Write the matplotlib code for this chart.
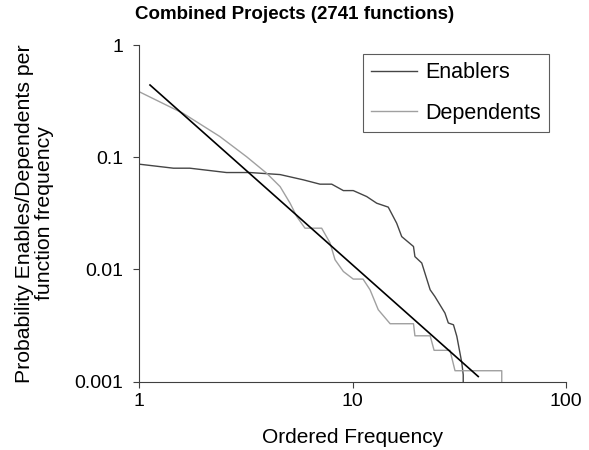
import matplotlib
matplotlib.use("Agg")
import matplotlib.pyplot as plt

plt.rcParams['font.family'] = ['Liberation Sans', 'DejaVu Sans']

# Enablers curve
enablers_x = [1.0, 1.45, 1.73, 2.15, 2.57, 3.31, 4.58, 5.89, 7.04, 7.99, 9.06,
              10.08, 11.65, 12.98, 14.7, 16.1, 17.0, 19.3, 19.6, 21.1, 23.1,
              24.3, 27.1, 28.1, 29.7, 30.8, 32.5, 33.0, 33.0]
enablers_y = [0.0867, 0.0798, 0.0798, 0.076, 0.073, 0.073, 0.070, 0.0628,
              0.0575, 0.0575, 0.0504, 0.0504, 0.0446, 0.0389, 0.0359, 0.0258,
              0.0196, 0.016, 0.013, 0.0114, 0.00658, 0.00574, 0.00408,
              0.00333, 0.00321, 0.00253, 0.00147, 0.00115, 0.001]

# Dependents curve
dependents_x = [1.0, 1.61, 2.39, 3.19, 3.96, 4.58, 5.10, 5.48, 5.99, 7.17,
                7.85, 8.28, 9.06, 10.08, 11.2, 12.08, 13.2, 15.0, 19.3, 19.6,
                23.1, 24.1, 28.6, 29.5, 30.2, 50.0, 50.0]
dependents_y = [0.384, 0.246, 0.153, 0.101, 0.072, 0.0547, 0.0389, 0.0296,
                0.0233, 0.0233, 0.0172, 0.0122, 0.00958, 0.0082, 0.0082,
                0.00658, 0.00437, 0.00328, 0.00328, 0.00256, 0.00256, 0.0019,
                0.0019, 0.0015, 0.00125, 0.00125, 0.001]

# power-law fit line endpoints
fit_x = [1.126, 38.8]
fit_y = [0.44, 0.00111]

fig = plt.figure(figsize=(5.89, 4.5), dpi=100)
ax = fig.add_axes([0.236, 0.152, 0.725, 0.748])

ax.plot(enablers_x, enablers_y, color='#454545', lw=1.0, label='Enablers')
ax.plot(dependents_x, dependents_y, color='#a0a0a0', lw=1.0, label='Dependents')
ax.plot(fit_x, fit_y, color='black', lw=1.2)

ax.set_xscale('log')
ax.set_yscale('log')
ax.set_xlim(1, 100)
ax.set_ylim(0.001, 1)
ax.set_xticks([1, 10, 100])
ax.set_xticklabels(['1', '10', '100'])
ax.set_yticks([0.001, 0.01, 0.1, 1])
ax.set_yticklabels(['0.001', '0.01', '0.1', '1'])
ax.minorticks_off()

for side in ['top', 'right']:
    ax.spines[side].set_visible(False)
for side in ['left', 'bottom']:
    ax.spines[side].set_color('#404040')
ax.tick_params(direction='out', length=4.5, width=0.8, color='#404040',
               labelsize=14)
ax.tick_params(axis='y', pad=7)
ax.tick_params(axis='x', pad=4)

ax.set_xlabel('Ordered Frequency', fontsize=15)
ax.xaxis.set_label_coords(0.5, -0.1375)
ax.set_ylabel('Probability Enables/Dependents per\nfunction frequency',
              fontsize=15.3, linespacing=1.05)
ax.yaxis.set_label_coords(-0.199, 0.5)
fig.suptitle('Combined Projects (2741 functions)', fontsize=13.5,
             fontweight='bold', x=0.5, y=0.987)

leg = ax.legend(loc='upper right', bbox_to_anchor=(0.96, 0.973),
                borderaxespad=0, fontsize=15.5, frameon=True, fancybox=False,
                edgecolor='#333333', handlelength=2.1, handletextpad=0.4,
                borderpad=0.38, labelspacing=0.9)
leg.get_frame().set_linewidth(0.8)

fig.savefig('out.png', dpi=100)
